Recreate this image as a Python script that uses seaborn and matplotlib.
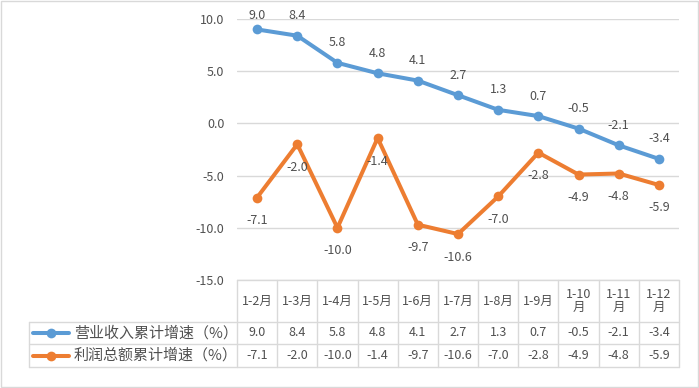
import matplotlib

matplotlib.use("Agg")
import matplotlib.pyplot as plt
import numpy as np
import pandas as pd
import seaborn as sns
from matplotlib.lines import Line2D
from matplotlib.patches import Rectangle

W, H = 699, 388
TEXT = "#505050"
GRID = "#D9D9D9"
BLUE = "#5B9BD5"
ORANGE = "#ED7D31"

months = ["1-2月", "1-3月", "1-4月", "1-5月", "1-6月", "1-7月",
          "1-8月", "1-9月", "1-10\n月", "1-11\n月", "1-12\n月"]
revenue_name = "营业收入累计增速（%）"
profit_name = "利润总额累计增速（%）"
revenue = [9.0, 8.4, 5.8, 4.8, 4.1, 2.7, 1.3, 0.7, -0.5, -2.1, -3.4]
profit = [-7.1, -2.0, -10.0, -1.4, -9.7, -10.6, -7.0, -2.8, -4.9, -4.8, -5.9]
y_ticks = [10, 5, 0, -5, -10, -15]

# plot area in pixels (from top-left)
PL, PR, PT, PB = 237, 679, 19, 280
ROW1, ROW2, ROW3 = 322, 344, 367
LEG_L = 29


def fx(px):
    return px / W


def fy(py):
    return 1 - py / H


def hline(fig, x0, x1, y):
    fig.add_artist(Line2D([fx(x0), fx(x1)], [fy(y), fy(y)], color=GRID, lw=1))


def vline(fig, x, y0, y1):
    fig.add_artist(Line2D([fx(x), fx(x)], [fy(y0), fy(y1)], color=GRID, lw=1))


sns.set_theme(style="white")
plt.rcParams["font.family"] = ["Noto Sans CJK SC", "DejaVu Sans"]
plt.rcParams["axes.unicode_minus"] = False

df = pd.DataFrame({"idx": np.arange(len(months)), "revenue": revenue, "profit": profit})

fig = plt.figure(figsize=(W / 100, H / 100), dpi=100)
ax = fig.add_axes([fx(PL), fy(PB), fx(PR) - fx(PL), fy(PT) - fy(PB)])

series = [("revenue", BLUE, 20, "bottom"), ("profit", ORANGE, -23, "top")]
for col, color, off, va in series:
    sns.lineplot(data=df, x="idx", y=col, ax=ax, color=color, linewidth=2.9,
                 marker="o", markersize=7, markeredgewidth=0, legend=False)
    for i, v in zip(df["idx"], df[col]):
        # keep the top label inside the chart, like Excel does
        dy = min(off, 14) if v >= 9 else off
        ax.annotate(f"{v:.1f}", (i, v), xytext=(0, dy), textcoords="offset pixels",
                    ha="center", va="center", fontsize=9, color=TEXT)

ax.set_xlim(-0.5, len(months) - 0.5)
ax.set_ylim(-15, 10)
ax.set_yticks(y_ticks)
ax.set_yticklabels([f"{t:.1f}" for t in y_ticks], fontsize=9, color=TEXT)
ax.tick_params(axis="y", length=0, pad=9)
ax.set_xticks([])
ax.set_xlabel("")
ax.set_ylabel("")
ax.grid(axis="y", color=GRID, lw=1)
for s in ax.spines.values():
    s.set_visible(False)

# data table
col_w = (PR - PL) / len(months)
hline(fig, PL, PR, PB)
hline(fig, LEG_L, PR, ROW1)
hline(fig, LEG_L, PR, ROW2)
hline(fig, LEG_L, PR, ROW3)
vline(fig, LEG_L, ROW1, ROW3)
for k in range(len(months) + 1):
    vline(fig, PL + k * col_w, PB, ROW3)

for k, m in enumerate(months):
    cx = PL + (k + 0.5) * col_w
    fig.text(fx(cx), fy((PB + ROW1) / 2), m, ha="center", va="center",
             fontsize=9, color=TEXT, linespacing=1.0)
    fig.text(fx(cx), fy((ROW1 + ROW2) / 2), f"{revenue[k]:.1f}", ha="center",
             va="center", fontsize=9, color=TEXT)
    fig.text(fx(cx), fy((ROW2 + ROW3) / 2), f"{profit[k]:.1f}", ha="center",
             va="center", fontsize=9, color=TEXT)

for name, color, y0, y1 in [(revenue_name, BLUE, ROW1, ROW2), (profit_name, ORANGE, ROW2, ROW3)]:
    cy = (y0 + y1) / 2
    fig.add_artist(Line2D([fx(33), fx(69)], [fy(cy), fy(cy)], color=color, lw=2.9))
    fig.add_artist(Line2D([fx(51)], [fy(cy)], color=color, marker="o",
                          markersize=7, markeredgewidth=0))
    fig.text(fx(74), fy(cy), name, ha="left", va="center", fontsize=10.8, color=TEXT)

fig.add_artist(Rectangle((0.001, 0.002), 0.997, 0.995, fill=False,
                         edgecolor=GRID, lw=1, transform=fig.transFigure))

fig.savefig("out.png", dpi=100)
